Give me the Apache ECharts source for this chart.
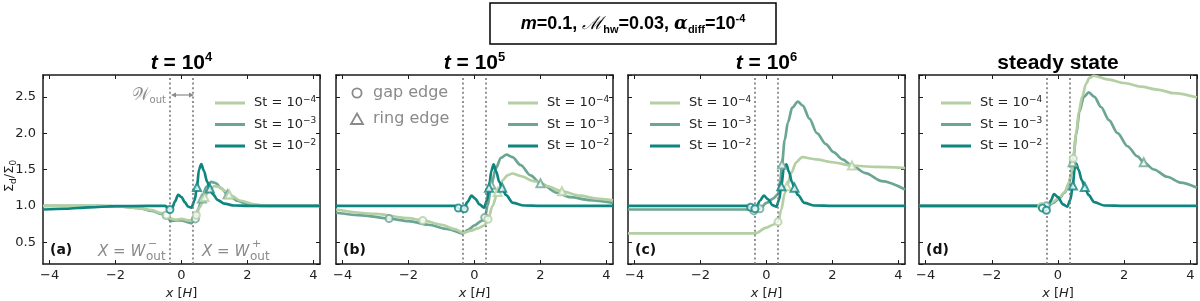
<!DOCTYPE html>
<html><head><meta charset="utf-8">
<script src="https://cdn.jsdelivr.net/npm/echarts@6/dist/echarts.min.js"></script>
<style>html,body{margin:0;padding:0;background:#fff}#c{width:1200px;height:301px}</style>
</head><body><div id="c"></div>
<script>
// ---------- data ----------
const panelTitles = ['t = 10^4', 't = 10^5', 't = 10^6', 'steady state'];
const panelLetters = ['(a)', '(b)', '(c)', '(d)'];
const stNames = ['St3', 'St4', 'St2'];
const stLabels = {St4: '−4', St3: '−3', St2: '−2'};
const wOut = [-0.35, 0.35];

// panel (a) t = 1e4
const a_st4 = [[-4.2,1.0],[-2.5,1.0],[-1.8,0.99],[-1.3,0.97],[-0.9,0.94],[-0.6,0.9],[-0.45,0.87],[-0.35,0.83],[-0.2,0.81],[0,0.82],[0.2,0.8],[0.35,0.8],[0.45,0.87],[0.55,0.98],[0.7,1.12],[0.85,1.22],[1.0,1.27],[1.15,1.26],[1.3,1.21],[1.5,1.14],[1.8,1.07],[2.2,1.02],[2.6,1.0],[4.2,1.0]];
const a_st3 = [[-4.2,1.0],[-2.5,1.0],[-1.8,0.99],[-1.3,0.97],[-0.9,0.93],[-0.6,0.89],[-0.47,0.87],[-0.32,0.79],[-0.15,0.8],[0,0.8],[0.15,0.78],[0.3,0.76],[0.42,0.82],[0.5,0.95],[0.62,1.1],[0.75,1.26],[0.9,1.33],[1.05,1.31],[1.2,1.24],[1.4,1.16],[1.7,1.07],[2.0,1.02],[2.4,1.0],[4.2,1.0]];
const a_st2 = [[-4.2,0.95],[-3.5,0.96],[-2.8,0.98],[-2.0,0.995],[-1.0,1.0],[-0.5,1.0],[-0.42,0.98],[-0.35,0.95],[-0.28,0.97],[-0.2,1.06],[-0.1,1.15],[0,1.12],[0.1,1.05],[0.2,0.99],[0.3,0.975],[0.4,1.08],[0.47,1.26],[0.53,1.5],[0.6,1.575],[0.68,1.48],[0.78,1.33],[0.86,1.24],[0.95,1.16],[1.1,1.08],[1.3,1.03],[1.6,1.005],[2.0,1.0],[4.2,1.0]];
const a_gap4 = [[-0.45,0.87],[0.45,0.87]];
const a_gap3 = [[-0.47,0.87],[0.42,0.82]];
const a_gap2 = [[-0.35,0.95]];
const a_ring4 = [[0.7,1.12],[1.45,1.155]];
const a_ring3 = [[0.62,1.1],[1.4,1.16]];
const a_ring2 = [[0.47,1.26],[0.86,1.24]];

// panel (b) t = 1e5
const b_st4 = [[-4.2,0.95],[-3.0,0.89],[-2.0,0.83],[-1.57,0.8],[-1.0,0.74],[-0.6,0.68],[-0.35,0.63],[-0.1,0.66],[0.1,0.69],[0.3,0.73],[0.41,0.815],[0.55,1.0],[0.7,1.19],[0.85,1.35],[1.0,1.42],[1.15,1.445],[1.4,1.41],[1.8,1.34],[2.2,1.27],[2.65,1.2],[3.2,1.14],[3.7,1.1],[4.2,1.075]];
const b_st3 = [[-4.2,0.905],[-3.4,0.87],[-2.59,0.825],[-2.0,0.79],[-1.4,0.74],[-0.8,0.68],[-0.35,0.62],[-0.2,0.67],[0,0.73],[0.2,0.79],[0.31,0.84],[0.4,1.0],[0.51,1.29],[0.65,1.52],[0.8,1.66],[0.97,1.705],[1.15,1.67],[1.4,1.56],[1.7,1.42],[2.0,1.31],[2.5,1.18],[2.9,1.12],[3.5,1.08],[4.2,1.04]];
const b_st2 = [[-4.2,1.0],[-0.6,1.0],[-0.49,0.97],[-0.4,0.94],[-0.31,0.96],[-0.22,1.05],[-0.09,1.14],[0.02,1.1],[0.15,1.02],[0.29,0.975],[0.38,1.08],[0.44,1.25],[0.51,1.48],[0.58,1.57],[0.66,1.47],[0.75,1.33],[0.84,1.25],[0.95,1.15],[1.17,1.04],[1.5,1.005],[2.0,1.0],[4.2,1.0]];
const b_gap4 = [[-1.57,0.8],[0.41,0.815]];
const b_gap3 = [[-2.59,0.825],[0.31,0.84]];
const b_gap2 = [[-0.49,0.97],[-0.31,0.96]];
const b_ring4 = [[0.7,1.19],[2.65,1.2]];
const b_ring3 = [[0.51,1.29],[2.0,1.31]];
const b_ring2 = [[0.44,1.25],[0.84,1.25]];

// panel (c) t = 1e6
const c_st4 = [[-4.2,0.62],[-0.35,0.62],[0,0.7],[0.2,0.74],[0.35,0.78],[0.45,0.95],[0.55,1.17],[0.62,1.27],[0.75,1.45],[0.9,1.6],[1.08,1.67],[1.5,1.64],[2.0,1.6],[2.59,1.555],[3.3,1.535],[4.2,1.52]];
const c_st3 = [[-4.2,0.95],[-0.5,0.95],[-0.38,0.93],[-0.2,0.96],[0,1.04],[0.2,1.1],[0.35,1.16],[0.42,1.35],[0.47,1.57],[0.55,1.9],[0.65,2.15],[0.78,2.35],[0.95,2.435],[1.1,2.38],[1.3,2.2],[1.53,2.0],[1.8,1.85],[2.03,1.74],[2.3,1.64],[2.59,1.555],[3.0,1.45],[3.5,1.34],[4.2,1.225]];
const c_st2 = [[-4.2,1.0],[-0.6,1.0],[-0.48,0.98],[-0.4,0.95],[-0.32,0.97],[-0.2,1.07],[-0.08,1.14],[0.05,1.09],[0.18,1.01],[0.3,0.99],[0.38,1.08],[0.45,1.27],[0.52,1.5],[0.6,1.57],[0.68,1.47],[0.77,1.33],[0.85,1.25],[0.95,1.15],[1.15,1.04],[1.45,1.005],[2.0,1.0],[4.2,1.0]];
const c_gap4 = [[0.35,0.78]];
const c_gap3 = [[-0.38,0.93],[-0.2,0.96]];
const c_gap2 = [[-0.48,0.98],[-0.35,0.96]];
const c_ring4 = [[0.62,1.27],[2.59,1.555]];
const c_ring3 = [[0.47,1.57]];
const c_ring2 = [[0.45,1.27],[0.85,1.25]];

// panel (d) steady state
const d_st4 = [[-4.2,1.0],[-0.6,1.0],[-0.5,0.99],[-0.35,1.0],[-0.2,1.04],[0.03,1.11],[0.2,1.19],[0.33,1.32],[0.4,1.45],[0.46,1.65],[0.55,2.0],[0.63,2.3],[0.73,2.5],[0.85,2.68],[0.95,2.76],[1.08,2.79],[1.5,2.74],[2.0,2.69],[2.5,2.64],[3.0,2.6],[3.5,2.55],[4.2,2.49]];
const d_st3 = [[-4.2,1.0],[-0.6,1.0],[-0.45,0.99],[-0.3,1.0],[-0.15,1.04],[0.03,1.1],[0.2,1.18],[0.33,1.3],[0.4,1.43],[0.46,1.65],[0.55,1.98],[0.65,2.3],[0.78,2.5],[0.93,2.56],[1.1,2.5],[1.3,2.36],[1.54,2.18],[1.8,2.0],[2.1,1.82],[2.4,1.68],[2.59,1.6],[2.9,1.5],[3.3,1.4],[3.7,1.32],[4.2,1.25]];
const d_st2 = [[-4.2,1.0],[-0.6,1.0],[-0.47,0.97],[-0.4,0.93],[-0.33,0.95],[-0.22,1.07],[-0.12,1.16],[0.0,1.12],[0.15,1.02],[0.28,0.99],[0.37,1.08],[0.45,1.28],[0.5,1.5],[0.55,1.58],[0.62,1.5],[0.72,1.35],[0.81,1.26],[0.92,1.15],[1.1,1.05],[1.4,1.005],[2.0,1.0],[4.2,1.0]];
const d_gap4 = [[-0.5,0.99],[0.46,1.65]];
const d_gap3 = [[-0.35,1.0]];
const d_gap2 = [[-0.47,0.97],[-0.35,0.94]];
const d_ring4 = [];
const d_ring3 = [[0.44,1.6],[2.59,1.6]];
const d_ring2 = [[0.45,1.28],[0.81,1.26]];

const panels = [
  {curves: {St4: a_st4, St3: a_st3, St2: a_st2}, gap: {St4: a_gap4, St3: a_gap3, St2: a_gap2}, ring: {St4: a_ring4, St3: a_ring3, St2: a_ring2}},
  {curves: {St4: b_st4, St3: b_st3, St2: b_st2}, gap: {St4: b_gap4, St3: b_gap3, St2: b_gap2}, ring: {St4: b_ring4, St3: b_ring3, St2: b_ring2}},
  {curves: {St4: c_st4, St3: c_st3, St2: c_st2}, gap: {St4: c_gap4, St3: c_gap3, St2: c_gap2}, ring: {St4: c_ring4, St3: c_ring3, St2: c_ring2}},
  {curves: {St4: d_st4, St3: d_st3, St2: d_st2}, gap: {St4: d_gap4, St3: d_gap3, St2: d_gap2}, ring: {St4: d_ring4, St3: d_ring3, St2: d_ring2}}
];

// ---------- style / layout ----------
const colors = {St4: '#b3cfa3', St3: '#6ba593', St2: '#0f857f'};
const FONT = 'DejaVu Sans';
const INK = '#1a1a1a';
const GREY = '#8a8a8a';
const gridBoxes = [
  {left: 43, top: 75, width: 277, height: 189},
  {left: 336, top: 75, width: 277, height: 189},
  {left: 628, top: 75, width: 277, height: 189},
  {left: 919, top: 75, width: 278, height: 189}
];
const legendLefts = [210, 503, 645, 936];

const chart = echarts.init(document.getElementById('c'), null, {renderer: 'canvas', width: 1200, height: 301});

const xFmt = v => (Math.abs(v - Math.round(v)) < 1e-6 ? (v < 0 ? '−' + (-v) : String(v)) : '');
const yFmt = v => (Math.abs(v * 2 - Math.round(v * 2)) < 1e-6 ? v.toFixed(1) : '');

const xAxes = [], yAxes = [], series = [], legends = [], graphics = [];
const lineIcon = 'path://M0,0H30V3H0Z';

panels.forEach((p, i) => {
  const axLine = {show: true, onZero: false, lineStyle: {color: INK, width: 1.5}};
  const tick = {show: true, inside: true, length: 4, lineStyle: {color: INK, width: 1}};
  xAxes.push({
    type: 'value', gridIndex: i, min: -4.2, max: 4.2, position: 'bottom',
    axisLine: axLine, axisTick: tick, splitLine: {show: false},
    axisLabel: {formatter: xFmt, color: '#222', fontSize: 13, fontFamily: FONT, margin: 5, showMinLabel: false, showMaxLabel: false},
    name: '{i|x}{r| [}{i|H}{r|]}', nameLocation: 'middle', nameGap: 19,
    nameTextStyle: {rich: {i: {fontStyle: 'italic', fontSize: 13, fontFamily: FONT, color: '#222'}, r: {fontSize: 13, fontFamily: FONT, color: '#222'}}}
  });
  xAxes.push({
    type: 'value', gridIndex: i, min: -4.2, max: 4.2, position: 'top',
    axisLine: axLine, axisTick: tick, splitLine: {show: false}, axisLabel: {show: false}
  });
  yAxes.push({
    type: 'value', gridIndex: i, min: 0.2, max: 2.8, position: 'left',
    axisLine: axLine, axisTick: tick, splitLine: {show: false},
    axisLabel: {show: i === 0, formatter: yFmt, color: '#222', fontSize: 13, fontFamily: FONT, margin: 7, showMinLabel: false, showMaxLabel: false}
  });
  yAxes.push({
    type: 'value', gridIndex: i, min: 0.2, max: 2.8, position: 'right',
    axisLine: axLine, axisTick: tick, splitLine: {show: false}, axisLabel: {show: false}
  });

  stNames.forEach((st, k) => {
    const s = {
      type: 'line', name: st, xAxisIndex: 2 * i, yAxisIndex: 2 * i,
      data: p.curves[st], showSymbol: false, symbol: 'none',
      smooth: 0.3, smoothMonotone: 'x',
      lineStyle: {color: colors[st], width: 2.7}, itemStyle: {color: colors[st]},
      z: 2 + k, silent: true
    };
    if (st === 'St2') {
      s.markLine = {
        silent: true, symbol: ['none', 'none'], animation: false,
        label: {show: false},
        lineStyle: {color: '#777', type: [2, 2.6], width: 1.6},
        data: wOut.map(v => ({xAxis: v}))
      };
    }
    series.push(s);
  });
  stNames.forEach(st => {
    series.push({
      type: 'scatter', name: 'gap_' + st, xAxisIndex: 2 * i, yAxisIndex: 2 * i,
      data: p.gap[st], symbol: 'emptyCircle', symbolSize: 7,
      itemStyle: {color: colors[st], borderColor: colors[st], borderWidth: 1.6}, z: 6, silent: true
    });
    series.push({
      type: 'scatter', name: 'ring_' + st, xAxisIndex: 2 * i, yAxisIndex: 2 * i,
      data: p.ring[st], symbol: 'emptyTriangle', symbolSize: 8,
      itemStyle: {color: colors[st], borderColor: colors[st], borderWidth: 1.6}, z: 6, silent: true
    });
  });

  legends.push({
    show: true, orient: 'vertical', left: legendLefts[i], top: 90,
    data: ['St4', 'St3', 'St2'], icon: lineIcon, itemWidth: 30, itemHeight: 14, itemGap: 7,
    selectedMode: false,
    formatter: name => '{n|St = 10}{s|' + stLabels[name] + '}',
    textStyle: {color: '#222', rich: {
      n: {fontSize: 13, fontFamily: FONT, color: '#222', lineHeight: 16, padding: [0, 0, 0, 4]},
      s: {fontSize: 9, fontFamily: FONT, color: '#222', lineHeight: 10, verticalAlign: 'top'}
    }}
  });

  // panel title
  const cx = gridBoxes[i].left + gridBoxes[i].width / 2;
  const t = panelTitles[i];
  let txt;
  if (t.startsWith('t')) {
    txt = '{it|t}{b| = 10}{sup|' + t.split('^')[1] + '}';
  } else {
    txt = '{b|' + t + '}';
  }
  graphics.push({
    type: 'text', x: cx, y: 63, silent: true,
    style: {text: txt, align: 'center', verticalAlign: 'middle', rich: {
      it: {fontSize: 21, fontWeight: 'bold', fontStyle: 'italic', fontFamily: 'Liberation Sans', fill: '#000', lineHeight: 24},
      b: {fontSize: 21, fontWeight: 'bold', fontFamily: 'Liberation Sans', fill: '#000', lineHeight: 24},
      sup: {fontSize: 13, fontWeight: 'bold', fontFamily: 'Liberation Sans', fill: '#000', lineHeight: 14, verticalAlign: 'top'}
    }}
  });
  // panel letter
  graphics.push({
    type: 'text', x: gridBoxes[i].left + 7, y: 250, silent: true,
    style: {text: panelLetters[i], fontSize: 14, fontWeight: 'bold', fontFamily: FONT, fill: '#111', verticalAlign: 'middle'}
  });
});

// y axis title
graphics.push({
  type: 'text', x: 10, y: 176, rotation: Math.PI / 2, silent: true,
  style: {text: '{r|Σ}{sub|d}{r|/Σ}{sub|0}', align: 'center', verticalAlign: 'middle', rich: {
    r: {fontSize: 13, fontFamily: FONT, fill: '#222', lineHeight: 16},
    sub: {fontSize: 9, fontFamily: FONT, fill: '#222', lineHeight: 10, verticalAlign: 'bottom'}
  }}
});

// top box
graphics.push({type: 'rect', shape: {x: 490, y: 3, width: 286, height: 41}, style: {fill: '#fff', stroke: '#000', lineWidth: 1.5}, silent: true});
graphics.push({
  type: 'text', x: 633, y: 24, silent: true,
  style: {text: '{mi|m}{b|=0.1, }{M|ℳ}{sub|hw}{b|=0.03, }{al|α}{sub|diff}{b|=10}{sup|-4}', align: 'center', verticalAlign: 'middle', rich: {
    mi: {fontSize: 18, fontWeight: 'bold', fontStyle: 'italic', fontFamily: 'Liberation Sans', fill: '#000', lineHeight: 22},
    b: {fontSize: 18, fontWeight: 'bold', fontFamily: 'Liberation Sans', fill: '#000', lineHeight: 22},
    M: {fontSize: 18, fontStyle: 'italic', fontFamily: 'DejaVu Serif', fill: '#000', lineHeight: 22},
    al: {fontSize: 18, fontWeight: 'bold', fontStyle: 'italic', fontFamily: 'DejaVu Serif', fill: '#000', lineHeight: 22},
    sub: {fontSize: 11, fontWeight: 'bold', fontFamily: 'Liberation Sans', fill: '#000', lineHeight: 12, verticalAlign: 'bottom'},
    sup: {fontSize: 11, fontWeight: 'bold', fontFamily: 'Liberation Sans', fill: '#000', lineHeight: 12, verticalAlign: 'top'}
  }}
});

// panel (a) annotations
graphics.push({
  type: 'text', x: 166, y: 96, silent: true,
  style: {text: '{w|𝒲}{sub|out}', align: 'right', verticalAlign: 'middle', rich: {
    w: {fontSize: 17, fontFamily: 'DejaVu Serif', fill: GREY, lineHeight: 18},
    sub: {fontSize: 10, fontFamily: FONT, fill: GREY, lineHeight: 12, verticalAlign: 'bottom'}
  }}
});
graphics.push({type: 'line', shape: {x1: 174, y1: 95, x2: 191, y2: 95}, style: {stroke: GREY, lineWidth: 1.2}, silent: true});
graphics.push({type: 'polygon', shape: {points: [[171, 95], [176, 92.5], [176, 97.5]]}, style: {fill: GREY}, silent: true});
graphics.push({type: 'polygon', shape: {points: [[194, 95], [189, 92.5], [189, 97.5]]}, style: {fill: GREY}, silent: true});

[[98, '−'], [202, '+']].forEach(([x0, sg]) => {
  graphics.push({type: 'text', x: x0, y: 252, silent: true,
    style: {text: 'X = W', fontSize: 15, fontStyle: 'italic', fontFamily: FONT, fill: GREY, verticalAlign: 'middle'}});
  graphics.push({type: 'text', x: x0 + 48, y: 257, silent: true,
    style: {text: 'out', fontSize: 12, fontFamily: FONT, fill: GREY, verticalAlign: 'middle'}});
  graphics.push({type: 'text', x: x0 + 50, y: 244, silent: true,
    style: {text: sg, fontSize: 11, fontFamily: FONT, fill: GREY, verticalAlign: 'middle'}});
});

// panel (b) marker legend
graphics.push({type: 'circle', shape: {cx: 357, cy: 93, r: 4.6}, style: {fill: '#fff', stroke: GREY, lineWidth: 1.8}, silent: true});
graphics.push({type: 'polygon', shape: {points: [[357, 113.5], [363, 124], [351, 124]]}, style: {fill: '#fff', stroke: GREY, lineWidth: 1.8}, silent: true});
graphics.push({type: 'text', x: 373, y: 93, silent: true, style: {text: 'gap edge', fontSize: 16, fontFamily: FONT, fill: GREY, verticalAlign: 'middle'}});
graphics.push({type: 'text', x: 373, y: 119, silent: true, style: {text: 'ring edge', fontSize: 16, fontFamily: FONT, fill: GREY, verticalAlign: 'middle'}});

chart.setOption({
  animation: false,
  backgroundColor: '#fff',
  grid: gridBoxes.map(g => Object.assign({containLabel: false, outerBoundsMode: 'none'}, g)),
  xAxis: xAxes,
  yAxis: yAxes,
  legend: legends,
  series: series,
  graphic: graphics
});
</script></body></html>
